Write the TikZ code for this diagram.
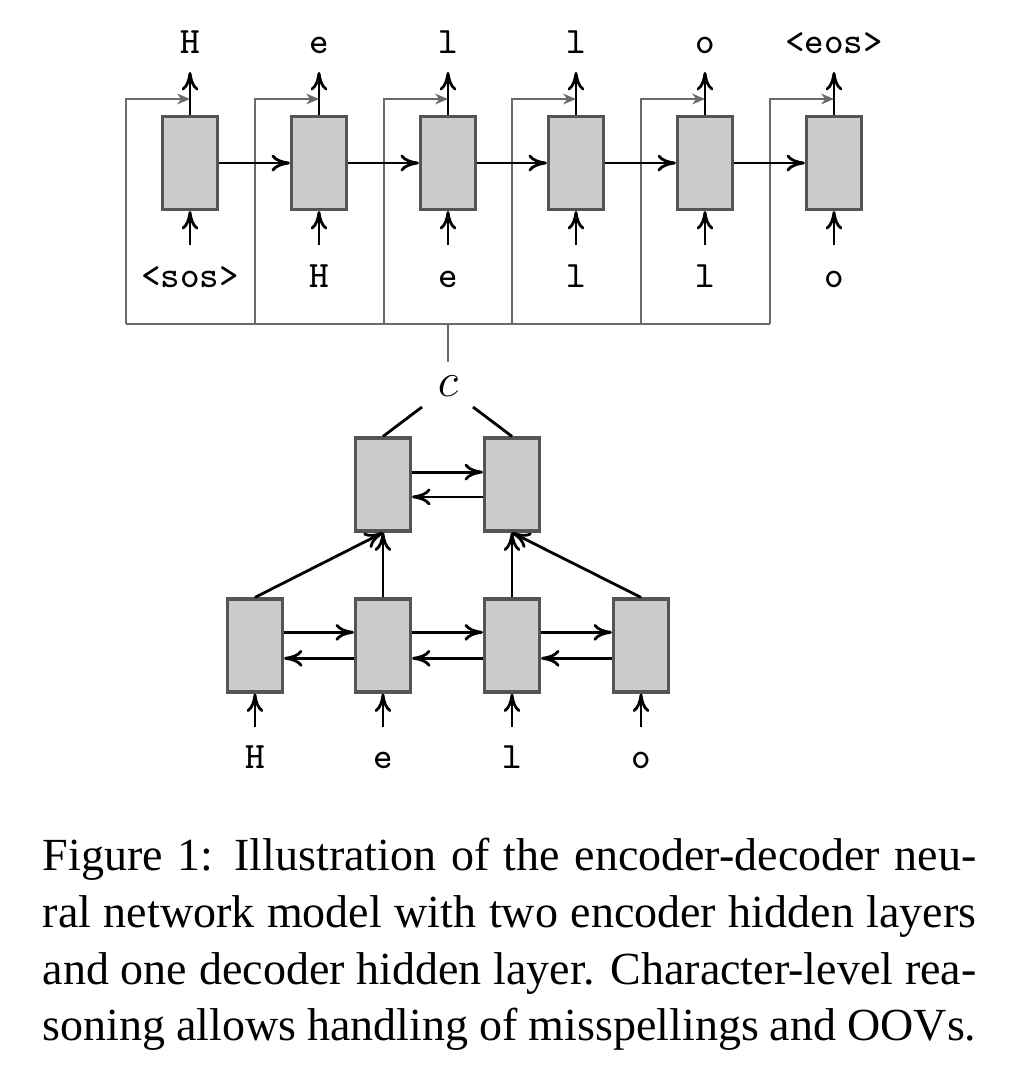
\documentclass[tikz,border=0pt]{standalone}
\usepackage{fontspec}
\setmainfont{Liberation Serif}
\usetikzlibrary{arrows.meta}
\definecolor{boxgray}{HTML}{555555}
\definecolor{cellfill}{HTML}{CCCCCC}
\definecolor{ctxgray}{HTML}{6A6A6A}
\newcommand{\capline}[1]{\hbox to 233.4pt{#1}}
\begin{document}
\begin{tikzpicture}[x=0.25pt,y=-0.25pt,
  cell/.style={draw=boxgray, fill=cellfill, line width=0.8pt, minimum width=13.75pt, minimum height=23.25pt, inner sep=0pt},
  flow/.style={line width=0.7pt, -{Computer Modern Rightarrow[length=4.6pt,width=4.2pt]}},
  ctx/.style={draw=ctxgray, line width=0.4pt},
  ctxarrow/.style={ctx, -{Stealth[length=3.2pt,width=2.7pt,inset=1pt]}},
  tok/.style={font=\fontsize{9.3}{11}\selectfont\ttfamily, anchor=base, inner sep=0pt},
  capt/.style={font=\fontsize{11.5}{14}\selectfont, anchor=base west, inner sep=0pt},
  plain/.style={line width=0.7pt}]

\useasboundingbox (0,0) rectangle (1012,1074);

% ---------- decoder ----------
\foreach \i/\x/\outt/\intt in {1/190/H/<sos>, 2/319/e/H, 3/448/l/e, 4/576/l/l, 5/705/o/l, 6/834/<eos>/o} {
  \node[cell] (d\i) at (\x,163) {};
  \node[tok] (do\i) at (\x,53) {\outt};
  \node[tok] (di\i) at (\x,287) {\intt};
  \coordinate (doutend\i) at (\x,72);
  \coordinate (dinstart\i) at (\x,245);
  \coordinate (ctxbot\i) at (\x-64,324);
  \coordinate (ctxtop\i) at (\x-64,99);
  \coordinate (ctxend\i) at (\x,99);
  \draw[flow] (d\i.north) -- (doutend\i);
  \draw[flow] (dinstart\i) -- (d\i.south);
  \draw[ctxarrow] (ctxbot\i) -- (ctxtop\i) -- (ctxend\i);
}
\foreach \i/\j in {1/2,2/3,3/4,4/5,5/6} {
  \draw[flow] (d\i.east) -- (d\j.west);
}
\draw[ctx] (ctxbot1) -- (ctxbot6);
\coordinate (stemtop) at (448,324);
\coordinate (stembot) at (448,362);
\draw[ctx] (stemtop) -- (stembot);

% ---------- context vector ----------
\node[font=\fontsize{11.5}{14}\selectfont, inner sep=0pt] (c) at (448,386) {$c$};
\coordinate (cl) at (422,407);
\coordinate (cr) at (473,407);

% ---------- upper encoder layer ----------
\node[cell] (m1) at (383,484.5) {};
\node[cell] (m2) at (512,484.5) {};
\draw[plain] (cl) -- (m1.north);
\draw[plain] (cr) -- (m2.north);
\draw[flow] ([yshift=3.1pt]m1.east) -- ([yshift=3.1pt]m2.west);
\draw[flow] ([yshift=-3.1pt]m2.west) -- ([yshift=-3.1pt]m1.east);

% ---------- lower encoder layer ----------
\foreach \i/\x/\ch in {1/255/H, 2/383/e, 3/512/l, 4/641/o} {
  \node[cell] (e\i) at (\x,645.5) {};
  \node[tok] (ei\i) at (\x,768) {\ch};
  \coordinate (einstart\i) at (\x,727);
  \draw[flow] (einstart\i) -- (e\i.south);
}
\foreach \i/\j in {1/2,2/3,3/4} {
  \draw[flow] ([yshift=3.3pt]e\i.east) -- ([yshift=3.3pt]e\j.west);
  \draw[flow] ([yshift=-3.2pt]e\j.west) -- ([yshift=-3.2pt]e\i.east);
}
\draw[flow] (e1.north) -- (m1.south);
\draw[flow] (e2.north) -- (m1.south);
\draw[flow] (e3.north) -- (m2.south);
\draw[flow] (e4.north) -- (m2.south);

% ---------- caption ----------
\node[capt] (cap1) at (42,870) {\capline{Figure 1: Illustration of the encoder-decoder neu-}};
\node[capt] (cap2) at (42,927) {\capline{ral network model with two encoder hidden layers}};
\node[capt] (cap3) at (42,984) {\capline{and one decoder hidden layer. Character-level rea-}};
\node[capt] (cap4) at (42,1040) {\capline{soning allows handling of misspellings and OOVs.}};
\end{tikzpicture}
\end{document}
